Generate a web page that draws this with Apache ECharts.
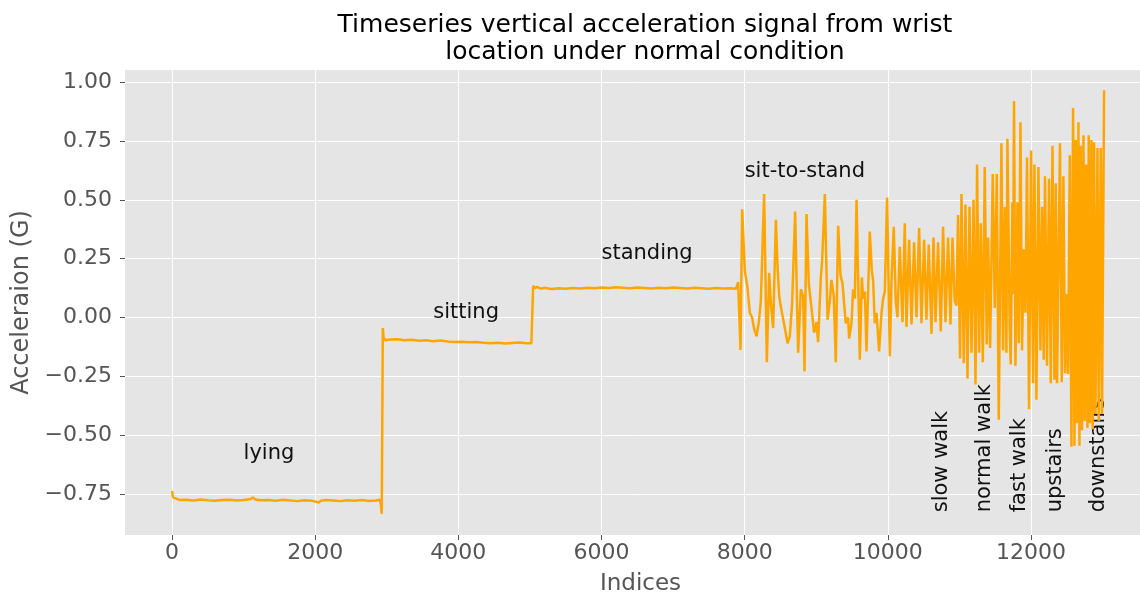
<!DOCTYPE html>
<html>
<head>
<meta charset="utf-8">
<script src="https://cdn.jsdelivr.net/npm/echarts@6/dist/echarts.min.js"></script>
<style>
html,body{margin:0;padding:0;background:#fff;}
#chart{width:1140px;height:597px;}
</style>
</head>
<body>
<div id="chart"></div>
<script>
// ---- data: [sample index, acceleration (G)] ----
const lying = [[0,-0.738],[15,-0.765],[40,-0.772],[100,-0.776],[200,-0.775],[300,-0.778],[400,-0.774],[500,-0.777],[600,-0.779],[700,-0.776],[800,-0.775],[900,-0.778],[1000,-0.776],[1100,-0.772],[1130,-0.765],[1160,-0.774],[1250,-0.777],[1350,-0.776],[1450,-0.779],[1550,-0.775],[1650,-0.778],[1750,-0.781],[1850,-0.777],[1950,-0.779],[2050,-0.787],[2080,-0.779],[2150,-0.776],[2250,-0.778],[2350,-0.781],[2450,-0.777],[2550,-0.779],[2650,-0.776],[2750,-0.780],[2850,-0.778],[2900,-0.775],[2915,-0.790],[2930,-0.835]];
const sitting = [[2945,-0.045],[2955,-0.085],[2980,-0.097],[3050,-0.094],[3150,-0.093],[3250,-0.097],[3350,-0.095],[3450,-0.099],[3550,-0.097],[3650,-0.101],[3750,-0.098],[3850,-0.102],[3950,-0.104],[4050,-0.103],[4150,-0.106],[4250,-0.104],[4350,-0.108],[4450,-0.110],[4550,-0.108],[4650,-0.111],[4750,-0.109],[4850,-0.107],[4950,-0.110],[5020,-0.110],[5035,-0.118]];
const standing = [[5045,0.135],[5070,0.125],[5100,0.130],[5150,0.122],[5200,0.126],[5300,0.121],[5400,0.124],[5500,0.122],[5600,0.125],[5700,0.123],[5800,0.126],[5900,0.124],[6000,0.127],[6100,0.125],[6200,0.128],[6300,0.126],[6400,0.124],[6500,0.127],[6600,0.125],[6700,0.123],[6800,0.126],[6900,0.124],[7000,0.127],[7100,0.125],[7200,0.123],[7300,0.126],[7400,0.124],[7500,0.122],[7600,0.125],[7700,0.123],[7800,0.124],[7880,0.122],[7909,0.150]];
const sitToStand = [[7942,-0.138],[7965,0.46],[8002,0.20],[8040,0.125],[8072,0.02],[8104,0.0],[8133,-0.05],[8166,-0.08],[8198,-0.02],[8226,0.07],[8272,0.525],[8310,-0.19],[8342,0.19],[8366,0.06],[8398,-0.045],[8436,0.415],[8459,0.22],[8482,0.09],[8515,0.03],[8561,-0.045],[8599,-0.11],[8631,-0.08],[8663,0.06],[8705,0.45],[8747,-0.15],[8785,0.12],[8817,0.09],[8836,-0.23],[8864,0.44],[8896,0.145],[8934,0.04],[8970,-0.065],[9004,-0.02],[9026,-0.105],[9064,0.17],[9082,0.24],[9120,0.525],[9158,-0.01],[9190,0.07],[9213,0.16],[9245,0.09],[9273,-0.19],[9306,0.39],[9339,0.18],[9367,0.145],[9389,0.06],[9413,-0.025],[9445,0.0],[9459,-0.09],[9493,-0.025],[9515,0.12],[9539,0.08],[9563,0.50],[9609,-0.18],[9637,0.17],[9655,0.08],[9679,0.11],[9702,-0.145],[9748,0.365],[9776,0.20],[9794,0.16],[9818,-0.025],[9842,0.02],[9878,-0.145],[9912,0.02],[9934,0.08],[9958,0.11],[9990,0.51],[10028,-0.165],[10051,0.15],[10083,0.385],[10111,0.07],[10135,0.0],[10167,0.30],[10205,-0.02],[10237,0.40],[10261,-0.04],[10297,0.33],[10331,-0.03],[10367,0.32],[10401,0.0],[10437,0.38],[10470,-0.025],[10507,0.33],[10540,-0.01]];
const slowWalk = [[10572,0.31],[10610,-0.07],[10638,0.34],[10666,-0.02],[10702,0.32],[10740,-0.06],[10772,0.385],[10806,-0.02],[10842,0.34],[10875,-0.03],[10903,0.34],[10935,0.07],[10959,0.05]];
const normalWalk = [[10981,0.435],[11009,-0.175],[11029,0.525],[11061,-0.195],[11085,0.48],[11113,-0.26],[11141,0.47],[11169,-0.15],[11197,0.50],[11225,-0.285],[11247,0.65],[11275,-0.15],[11299,0.40],[11327,-0.19],[11354,0.64],[11382,-0.115],[11401,0.34],[11429,-0.13],[11466,0.61],[11494,0.04],[11522,0.61],[11550,-0.435]];
const fastWalk = [[11587,0.74],[11610,-0.14],[11634,0.47],[11657,-0.15],[11671,0.76],[11703,-0.05],[11717,-0.20],[11741,0.49],[11750,0.10],[11763,0.92],[11783,-0.205],[11811,0.49],[11829,-0.11],[11853,0.83],[11875,-0.14],[11899,0.29],[11923,0.02],[11945,0.68],[11973,-0.39],[12001,0.71],[12029,-0.28],[12048,0.65],[12076,-0.35],[12104,0.64],[12132,-0.14]];
const upstairs = [[12155,0.47],[12178,-0.18],[12196,0.60],[12224,-0.205],[12252,0.59],[12276,-0.28],[12300,0.73],[12328,-0.265],[12346,0.57],[12364,-0.28],[12405,0.74],[12430,-0.275],[12453,0.60],[12476,-0.237],[12500,0.10],[12518,-0.24]];
const downstairs = [[12542,0.69],[12565,-0.55],[12588,0.89],[12607,-0.545],[12625,0.754],[12644,-0.45],[12663,0.83],[12677,-0.545],[12695,0.73],[12713,-0.48],[12733,0.775],[12751,-0.44],[12769,0.65],[12789,-0.47],[12807,0.775],[12825,-0.45],[12845,0.754],[12863,-0.475],[12881,0.745],[12901,-0.41],[12929,0.72],[12947,-0.44],[12975,0.72],[12993,-0.41],[13021,0.966]];

const xTicks = [0, 2000, 4000, 6000, 8000, 10000, 12000];
const yTicks = [-0.75, -0.5, -0.25, 0, 0.25, 0.5, 0.75, 1.0];

// annotation texts and their data anchors
const flatLabels = ['lying', 'sitting', 'standing', 'sit-to-stand'];
const flatLabelX = [1000, 3650, 6000, 8000];
const flatLabelY = [-0.6, 0.0, 0.25, 0.6];
const walkLabels = ['slow walk', 'normal walk', 'fast walk', 'upstairs', 'downstairs'];
const walkLabelX = [10600, 11200, 11700, 12200, 12800];
const walkLabelY = [-0.82, -0.82, -0.82, -0.82, -0.82];

const signal = [].concat(lying, sitting, standing, sitToStand, slowWalk, normalWalk, fastWalk, upstairs, downstairs);

const FONT = "'DejaVu Sans', 'Liberation Sans', sans-serif";
const chart = echarts.init(document.getElementById('chart'), null, {renderer: 'canvas'});

const option = {
  animation: false,
  backgroundColor: '#ffffff',
  title: {
    text: 'Timeseries vertical acceleration signal from wrist\nlocation under normal condition',
    left: 640, top: 7, textAlign: 'center',
    textStyle: {fontFamily: FONT, fontSize: 25, fontWeight: 'normal', color: '#000', lineHeight: 27}
  },
  grid: {left: 125, right: 0, top: 70, bottom: 62, show: true, backgroundColor: '#E5E5E5', borderWidth: 0,
    containLabel: false, outerBoundsMode: 'none'},
  xAxis: {
    type: 'value', min: -657, max: 13523,
    name: 'Indices', nameLocation: 'middle', nameGap: 38,
    nameTextStyle: {fontFamily: FONT, fontSize: 23, color: '#555555', padding: [0, 0, 0, 16]},
    axisLine: {show: false, onZero: false},
    axisTick: {show: true, customValues: xTicks, length: 5, lineStyle: {color: '#555555', width: 1}},
    axisLabel: {customValues: xTicks, fontFamily: FONT, fontSize: 22, color: '#555555', margin: 7,
      formatter: v => String(v)},
    splitLine: {show: true, lineStyle: {color: '#ffffff', width: 1}}
  },
  yAxis: {
    type: 'value', min: -0.925, max: 1.052,
    name: 'Acceleraion (G)', nameLocation: 'middle', nameGap: 83,
    nameTextStyle: {fontFamily: FONT, fontSize: 24, color: '#555555'},
    axisLine: {show: false, onZero: false},
    axisTick: {show: true, customValues: yTicks, length: 5, lineStyle: {color: '#555555', width: 1}},
    axisLabel: {customValues: yTicks, fontFamily: FONT, fontSize: 22, color: '#555555', margin: 13,
      formatter: v => (v < 0 ? '\u2212' : '') + Math.abs(v).toFixed(2)},
    splitLine: {show: true, lineStyle: {color: '#ffffff', width: 1}}
  },
  series: [{
    type: 'line', data: signal, showSymbol: false, symbol: 'none', sampling: null,
    lineStyle: {color: '#FFA500', width: 2.5}, itemStyle: {color: '#FFA500'}, clip: true
  }]
};
chart.setOption(option);

// place annotation texts at their data anchors
const gfx = [];
flatLabels.forEach((t, i) => {
  const p = chart.convertToPixel({gridIndex: 0}, [flatLabelX[i], flatLabelY[i]]);
  gfx.push({type: 'text', x: p[0], y: p[1] - 5, style: {text: t, fontFamily: FONT, fontSize: 21, fill: '#111', align: 'left', verticalAlign: 'middle'}});
});
walkLabels.forEach((t, i) => {
  const p = chart.convertToPixel({gridIndex: 0}, [walkLabelX[i], walkLabelY[i]]);
  gfx.push({type: 'text', x: p[0], y: p[1] + 2, rotation: Math.PI / 2, style: {text: t, fontFamily: FONT, fontSize: 21, fill: '#111', align: 'left', verticalAlign: 'top'}});
});
chart.setOption({graphic: gfx});
</script>
</body>
</html>
